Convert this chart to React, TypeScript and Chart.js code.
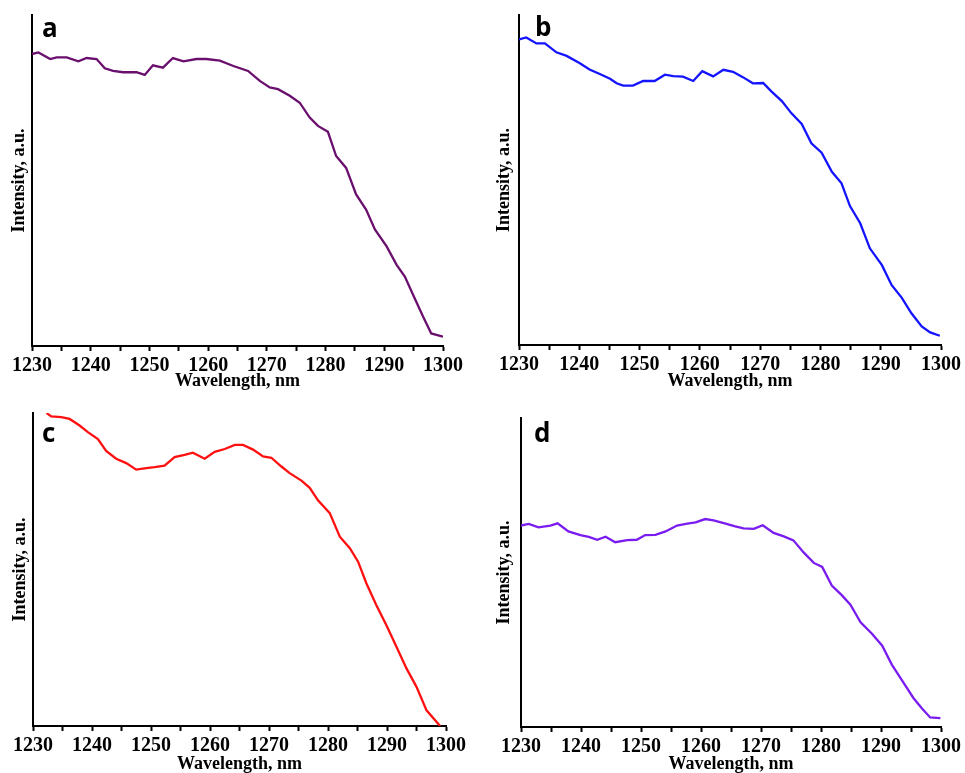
import React, { useEffect, useRef } from "react";
import { Chart, registerables } from "chart.js";

Chart.register(...registerables);

// ---- data (wavelength nm / intensity a.u.) ----
const aWave = [1230, 1231.1, 1233.1, 1234.2, 1235.9, 1237.9, 1239.3, 1241.0, 1242.4, 1243.8, 1245.5, 1247.8, 1249.2, 1250.6, 1252.3, 1254.0, 1255.8, 1258.0, 1259.7, 1262.0, 1264.3, 1266.8, 1268.8, 1270.5, 1271.9, 1273.9, 1275.6, 1277.3, 1278.7, 1280.4, 1281.8, 1283.5, 1285.2, 1286.9, 1288.4, 1290.4, 1292.1, 1293.5, 1294.9, 1296.6, 1298.0, 1300];
const aInt = [88.2, 88.7, 86.7, 87.2, 87.2, 86.0, 87.0, 86.7, 83.9, 83.1, 82.7, 82.7, 81.9, 84.8, 84.1, 87.0, 86.0, 86.7, 86.7, 86.2, 84.6, 83.1, 80.1, 78.1, 77.6, 75.6, 73.5, 69.0, 66.5, 64.7, 57.4, 53.8, 45.8, 41.2, 35.2, 30.1, 24.5, 21.0, 15.5, 8.9, 3.8, 2.8];

const bWave = [1230, 1231.2, 1232.9, 1234.3, 1236.2, 1237.9, 1240.1, 1241.7, 1243.4, 1245.1, 1246.2, 1247.3, 1248.9, 1250.6, 1252.5, 1254.2, 1255.6, 1257.2, 1258.9, 1260.4, 1262.2, 1263.9, 1265.5, 1267.2, 1268.8, 1270.5, 1271.9, 1273.6, 1275.2, 1276.9, 1278.5, 1280.2, 1281.9, 1283.5, 1284.9, 1286.6, 1288.2, 1290.2, 1291.8, 1293.5, 1295.1, 1296.8, 1298.2, 1299.8];
const bInt = [92.6, 93.2, 91.4, 91.4, 88.7, 87.6, 85.4, 83.5, 82.1, 80.7, 79.3, 78.6, 78.6, 80.0, 80.0, 81.9, 81.5, 81.3, 80.0, 83.0, 81.4, 83.4, 82.8, 81.1, 79.3, 79.4, 76.8, 73.9, 70.2, 67.0, 61.1, 58.3, 52.5, 49.0, 42.1, 36.9, 29.3, 24.2, 18.2, 14.3, 9.6, 5.6, 3.8, 2.8];

const cWave = [1232.3, 1233.1, 1234.8, 1236.2, 1237.9, 1239.3, 1241.0, 1242.4, 1244.1, 1245.8, 1247.5, 1249.2, 1250.6, 1252.3, 1254.0, 1255.7, 1257.1, 1259.1, 1260.8, 1262.5, 1264.2, 1265.6, 1267.3, 1269.0, 1270.4, 1272.1, 1273.5, 1275.5, 1276.9, 1278.3, 1280.3, 1282.0, 1283.7, 1285.1, 1286.5, 1288.2, 1289.9, 1291.6, 1293.3, 1295.0, 1296.7, 1299.0];
const cInt = [100, 98.9, 98.7, 98.1, 96.0, 93.9, 91.7, 87.9, 85.4, 84.0, 81.9, 82.4, 82.7, 83.2, 85.9, 86.6, 87.3, 85.4, 87.6, 88.5, 89.8, 89.8, 88.3, 86.1, 85.7, 82.9, 80.8, 78.4, 76.1, 72.1, 68.0, 60.5, 56.8, 52.5, 45.6, 38.6, 32.2, 25.3, 18.4, 12.5, 5.0, 0];

const dWave = [1230, 1231.3, 1232.9, 1234.9, 1236.1, 1237.9, 1239.9, 1241.3, 1242.7, 1244.1, 1245.7, 1247.7, 1249.3, 1250.7, 1252.4, 1254.1, 1256.0, 1257.7, 1259.1, 1260.7, 1262.1, 1264.1, 1265.7, 1267.1, 1268.8, 1270.3, 1272.1, 1273.8, 1275.4, 1277.1, 1278.8, 1280.2, 1281.8, 1283.5, 1284.9, 1286.6, 1288.5, 1290.2, 1291.8, 1293.8, 1295.4, 1296.8, 1298.2, 1299.9];
const dInt = [65.2, 65.7, 64.6, 65.2, 65.9, 63.3, 62.1, 61.5, 60.6, 61.6, 59.8, 60.5, 60.6, 62.1, 62.2, 63.3, 65.2, 65.8, 66.2, 67.3, 66.9, 65.8, 64.9, 64.3, 64.1, 65.3, 62.8, 61.7, 60.4, 56.5, 53.1, 51.8, 45.8, 42.6, 39.6, 33.9, 30.2, 26.3, 20.2, 14.2, 9.4, 6.1, 3.1, 2.9];

const xMin = 1230;
const xMax = 1300;
const xStep = 5;
const xLabelStep = 10;
const panelLetters = ["a", "b", "c", "d"];
const xTitle = "Wavelength, nm";
const yTitle = "Intensity, a.u.";

type Panel = {
  letter: string;
  wave: number[];
  inten: number[];
  color: string;
  left: number;
  top: number;
  w: number;
  h: number;
  yWidth: number;
  padRight: number;
  padTop: number;
  xHeight: number;
  yTitlePad: number;
  letterX: number;
  letterY: number;
};

const panels: Panel[] = [
  { letter: panelLetters[0], wave: aWave, inten: aInt, color: "#6a0f6e", left: 0, top: 0, w: 480, h: 390, yWidth: 32, padRight: 37, padTop: 15, xHeight: 44, yTitlePad: 9, letterX: 42, letterY: 37 },
  { letter: panelLetters[1], wave: bWave, inten: bInt, color: "#1414ff", left: 480, top: 0, w: 485, h: 390, yWidth: 39, padRight: 24, padTop: 15, xHeight: 45, yTitlePad: 14, letterX: 55, letterY: 36 },
  { letter: panelLetters[2], wave: cWave, inten: cInt, color: "#ff1010", left: 0, top: 390, w: 480, h: 383, yWidth: 33, padRight: 34, padTop: 23, xHeight: 47, yTitlePad: 10, letterX: 42, letterY: 52 },
  { letter: panelLetters[3], wave: dWave, inten: dInt, color: "#7a1cf0", left: 480, top: 390, w: 485, h: 383, yWidth: 41, padRight: 24, padTop: 28, xHeight: 46, yTitlePad: 14, letterX: 54, letterY: 52 },
];

const serif = '"Liberation Serif", "Times New Roman", serif';

function PanelChart({ p }: { p: Panel }) {
  const ref = useRef<HTMLCanvasElement | null>(null);
  useEffect(() => {
    if (!ref.current) return;
    const letterPlugin = {
      id: "panelLetter",
      afterDraw(chart: any) {
        const ctx = chart.ctx;
        ctx.save();
        ctx.font = 'bold 26px "Open Sans"';
        ctx.fillStyle = "#000";
        ctx.textBaseline = "alphabetic";
        ctx.textAlign = "left";
        ctx.fillText(p.letter, p.letterX, p.letterY);
        ctx.restore();
      },
    };
    const chart = new Chart(ref.current, {
      type: "line",
      data: {
        datasets: [
          {
            data: p.wave.map((x, i) => ({ x, y: p.inten[i] })),
            borderColor: p.color,
            borderWidth: 2.3,
            pointRadius: 0,
            tension: 0,
            fill: false,
          },
        ],
      },
      options: {
        responsive: false,
        animation: false,
        devicePixelRatio: 1,
        layout: { padding: { top: p.padTop, right: p.padRight, left: 0, bottom: 0 } },
        plugins: { legend: { display: false }, tooltip: { enabled: false }, title: { display: false } },
        scales: {
          x: {
            type: "linear",
            min: xMin,
            max: xMax,
            afterFit: (s: any) => {
              s.height = p.xHeight;
            },
            ticks: {
              stepSize: xStep,
              autoSkip: false,
              maxRotation: 0,
              padding: 3,
              color: "#000",
              font: { family: serif, size: 20, weight: "bold" },
              callback: (v: any) => (Number(v) % xLabelStep === 0 ? String(v) : ""),
            },
            grid: { display: true, drawOnChartArea: false, drawTicks: true, tickLength: 5, tickWidth: 2, tickColor: "#000" },
            border: { display: true, color: "#000", width: 2 },
            title: {
              display: true,
              text: xTitle,
              color: "#000",
              padding: { top: 0, bottom: -2 },
              font: { family: serif, size: 18, weight: "bold" },
            },
          },
          y: {
            type: "linear",
            min: 0,
            max: 100,
            afterFit: (s: any) => {
              s.width = p.yWidth;
            },
            ticks: { display: false },
            grid: { display: false },
            border: { display: true, color: "#000", width: 2 },
            title: {
              display: true,
              text: yTitle,
              color: "#000",
              padding: { top: p.yTitlePad, bottom: 0 },
              font: { family: serif, size: 18, weight: "bold" },
            },
          },
        },
      },
      plugins: [letterPlugin],
    } as any);
    return () => chart.destroy();
  }, [p]);
  return (
    <canvas
      ref={ref}
      width={p.w}
      height={p.h}
      style={{ position: "absolute", left: p.left, top: p.top, width: p.w, height: p.h }}
    />
  );
}

export default function App() {
  return (
    <div style={{ position: "absolute", left: 0, top: 0, width: 965, height: 773, background: "#fff", overflow: "hidden" }}>
      {panels.map((p) => (
        <PanelChart key={p.letter} p={p} />
      ))}
    </div>
  );
}
